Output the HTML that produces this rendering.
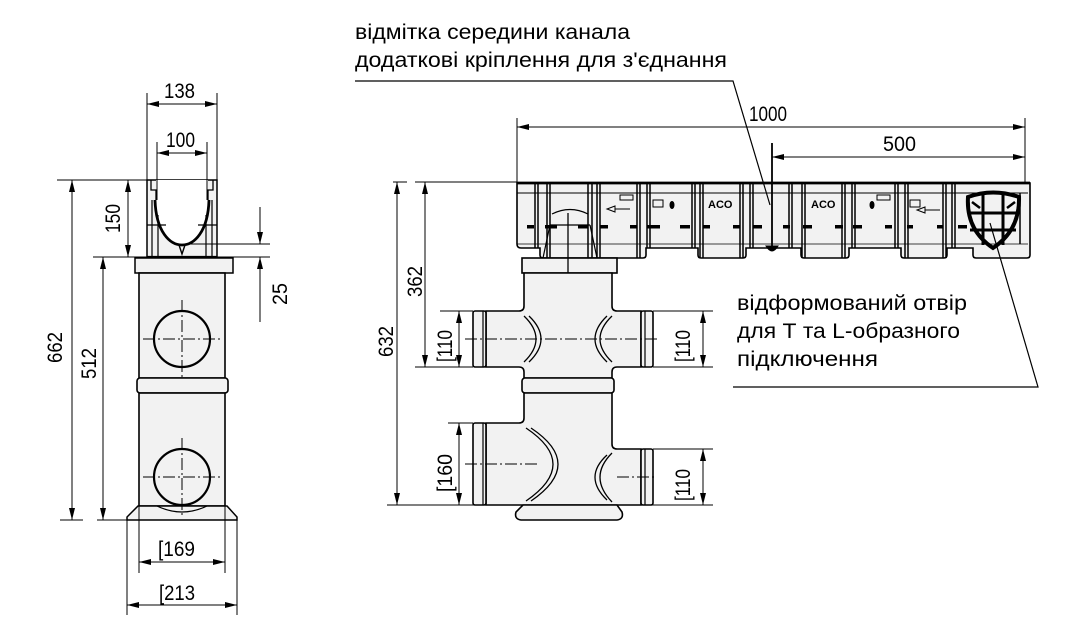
<!DOCTYPE html>
<html><head><meta charset="utf-8"><style>
html,body{margin:0;padding:0;background:#fff;}
svg{display:block;}
text{font-family:"Liberation Sans","DejaVu Sans",sans-serif;fill:#000;}
</style></head><body>
<svg width="1071" height="631" viewBox="0 0 1071 631" xmlns="http://www.w3.org/2000/svg">
<defs>
<marker id="a" markerUnits="userSpaceOnUse" markerWidth="12" markerHeight="6" refX="12" refY="3" orient="auto-start-reverse"><path d="M0,0 L12,3 L0,6 Z" fill="#000"/></marker>
</defs>
<rect width="1071" height="631" fill="#fff"/>

<!-- ============ LEFT VIEW ============ -->
<g stroke="#000" fill="#f2f2f2">
  <rect x="147" y="180" width="70" height="77" stroke-width="1.5"/>
  <path d="M156,180 L156,200 C156,232 170,245 182,245 C194,245 208,232 208,200 L208,180 Z" fill="#fff" stroke="none"/>
  <path d="M151,180 V190 H156 V200 M213,180 V190 H208 V200" fill="none" stroke-width="1.3"/>
  <path d="M147,225 H166 M198,225 H217" fill="none" stroke-width="1.2"/>
  <path d="M152,200 V257 M158,215 V257 M206,215 V257 M212,200 V257" fill="none" stroke-width="1.2"/>
  <path d="M155,200 C156,232 170,245 182,245 C194,245 208,232 209,200" fill="none" stroke-width="2.8"/>
  <path d="M179,245 L182,254 L185,245" fill="none" stroke-width="1.4"/>
  <line x1="147" y1="257" x2="217" y2="257" stroke-width="2.2"/>
  <rect x="135" y="258" width="98" height="15" stroke-width="1.5"/>
  <rect x="139" y="273" width="86" height="105" stroke-width="1.6"/>
  <rect x="137" y="378" width="91" height="15" rx="3" stroke-width="1.6"/>
  <rect x="139" y="393" width="86" height="113" stroke-width="1.6"/>
  <path d="M138,506 H227 L237,517 V520 H127 V517 Z" stroke-width="1.5"/>
  <path d="M157,506 Q182,518 207,506" fill="none" stroke-width="1.2"/>
  <circle cx="182" cy="339" r="28" fill="none" stroke-width="2.2"/>
  <circle cx="182" cy="477" r="28" fill="none" stroke-width="2.2"/>
</g>
<g stroke="#000" stroke-width="1" stroke-dasharray="12 3 2 3" fill="none">
  <path d="M143,339 H222 M182,300 V377 M143,477 H222 M182,438 V517"/>
</g>
<g stroke="#000" stroke-width="1" fill="none">
  <path d="M147,93 V180 M217,93 V180 M157,142 V200 M207,142 V200"/>
  <path d="M57,180 H147 M60,520 H83 M93,257 H270 M97,520 H127 M185,244 H270"/>
  <path d="M139,506 V573 M225,506 V573 M127,518 V615 M237,518 V615"/>
  <line x1="147" y1="104" x2="217" y2="104" marker-start="url(#a)" marker-end="url(#a)"/>
  <line x1="157" y1="153" x2="207" y2="153" marker-start="url(#a)" marker-end="url(#a)"/>
  <line x1="128" y1="180" x2="128" y2="257" marker-start="url(#a)" marker-end="url(#a)"/>
  <line x1="72" y1="180" x2="72" y2="520" marker-start="url(#a)" marker-end="url(#a)"/>
  <line x1="103" y1="257" x2="103" y2="520" marker-start="url(#a)" marker-end="url(#a)"/>
  <line x1="260" y1="207" x2="260" y2="244" marker-end="url(#a)"/>
  <line x1="260" y1="322" x2="260" y2="257" marker-end="url(#a)"/>
  <line x1="139" y1="562" x2="225" y2="562" marker-start="url(#a)" marker-end="url(#a)"/>
  <line x1="127" y1="605" x2="237" y2="605" marker-start="url(#a)" marker-end="url(#a)"/>
</g>
<g font-size="21">
  <text x="164" y="98" textLength="31" lengthAdjust="spacingAndGlyphs">138</text>
  <text x="166" y="147" textLength="29" lengthAdjust="spacingAndGlyphs">100</text>
  <text x="158" y="556" textLength="37" lengthAdjust="spacingAndGlyphs">[169</text>
  <text x="159" y="600" textLength="36" lengthAdjust="spacingAndGlyphs">[213</text>
  <text transform="translate(120,233) rotate(-90)" textLength="29" lengthAdjust="spacingAndGlyphs">150</text>
  <text transform="translate(62,363) rotate(-90)" textLength="31" lengthAdjust="spacingAndGlyphs">662</text>
  <text transform="translate(96,379) rotate(-90)" textLength="31" lengthAdjust="spacingAndGlyphs">512</text>
  <text transform="translate(287,305) rotate(-90)" textLength="22" lengthAdjust="spacingAndGlyphs">25</text>
</g>

<!-- ============ RIGHT VIEW ============ -->
<g stroke="#000">
  <path d="M517,183 H1030 V255 Q1030,258 1027,258 H976 Q973,258 973,255 V248 H947 V255 Q947,258 944,258 H904 Q901,258 901,255 V248 H849 V255 Q849,258 846,258 H804 Q801,258 801,255 V248 H746 V255 Q746,258 743,258 H701 Q698,258 698,255 V248 H646 V255 Q646,258 643,258 H543 Q540,258 540,255 V248 H521 Q517,248 517,244 Z" fill="#f2f2f2" stroke-width="1.6"/>
  <line x1="517" y1="183" x2="1030" y2="183" stroke-width="2.8"/>
  <line x1="517" y1="193" x2="1028" y2="193" stroke-width="1"/>
  <line x1="517" y1="244" x2="1028" y2="244" stroke-width="0.8"/>
  <g stroke-width="1.5" fill="none">
    <path d="M535,183 V248 M538,183 V248 M547,183 V258 M550,183 V258 M588,183 V258 M592,183 V258 M597,183 V258 M600,183 V258 M637,183 V258 M640,183 V258 M647,183 V248 M650,183 V248"/>
    <path d="M692,183 V248 M695,183 V248 M700,183 V258 M703,183 V258 M740,183 V258 M743,183 V258 M750,183 V248 M753,183 V248"/>
    <path d="M789,183 V248 M792,183 V248 M802,183 V258 M805,183 V258 M842,183 V258 M845,183 V258 M852,183 V248 M855,183 V248"/>
    <path d="M895,183 V248 M898,183 V248 M905,183 V258 M908,183 V258 M943,183 V258 M946,183 V258 M952,183 V248 M955,183 V248 M1020,193 V244"/>
    <path d="M550,225 L543,258 M590,225 L597,258 M550,225 H590 M552,214 Q570,205 588,214" stroke-width="1.2"/>
  </g>
  <g stroke="none" fill="#000">
    <rect x="527" y="225" width="7" height="3.5"/><rect x="545" y="225" width="12" height="3.5"/>
    <rect x="578" y="225" width="10" height="3.5"/><rect x="600" y="225" width="8" height="3.5"/>
    <rect x="630" y="225" width="7" height="3.5"/><rect x="647" y="225" width="13" height="3.5"/>
    <rect x="680" y="225" width="10" height="3.5"/><rect x="703" y="225" width="7" height="3.5"/>
    <rect x="733" y="225" width="7" height="3.5"/><rect x="753" y="225" width="9" height="3.5"/>
    <rect x="783" y="225" width="7" height="3.5"/><rect x="803" y="225" width="9" height="3.5"/>
    <rect x="835" y="225" width="8" height="3.5"/><rect x="853" y="225" width="9" height="3.5"/>
    <rect x="885" y="225" width="7" height="3.5"/><rect x="907" y="225" width="6" height="3.5"/>
    <rect x="937" y="225" width="6" height="3.5"/><rect x="958" y="225" width="9" height="3.5"/>
    <ellipse cx="672" cy="205" rx="2.5" ry="4"/>
    <ellipse cx="872" cy="205" rx="2.5" ry="4"/>
  </g>
  <g stroke-width="1" fill="none">
    <path d="M620,195 H633 V200 H620 Z M653,200 H663 V207 H653 Z"/>
    <path d="M877,195 H890 V200 H877 Z M910,200 H920 V207 H910 Z"/>
    <path d="M630,209 H615 M615,206 L607,209 L615,212 Z"/>
    <path d="M940,210 H925 M925,207 L917,210 L925,213 Z"/>
  </g>
  <text x="708" y="208" font-size="11" font-weight="bold" stroke="none">ACO</text>
  <text x="811" y="208" font-size="11" font-weight="bold" stroke="none">ACO</text>
  <line x1="772" y1="143" x2="772" y2="248" stroke-width="1.8"/>
  <path d="M766,246 Q772,256 778,246 Z" fill="#000" stroke-width="1"/>
  <g stroke-width="4" fill="none">
    <path d="M968,197 Q993,188 1019,197 Q1020,230 993,248 Q966,230 968,197 Z"/>
    <path d="M983,193 V245 M1003,193 V245 M968,213 H1019 M970,230 H1016" stroke-width="3"/>
    <path d="M972,202 L980,208 M1015,202 L1007,208" stroke-width="2.5"/>
  </g>
</g>

<g stroke="#000" fill="#f2f2f2" stroke-width="1.6">
  <rect x="522" y="258" width="95" height="15"/>
  <path d="M524,273 V306 Q524,311 519,311 H486 V367 H519 Q524,367 524,372 V378 H612 V372 Q612,367 617,367 H641 V311 H617 Q612,311 612,306 V273 Z"/>
  <rect x="522" y="378" width="92" height="15" rx="3"/>
  <path d="M524,393 V418 Q524,423 519,423 H486 V505 H641 V449 H617 Q612,449 612,444 V393 Z"/>
  <rect x="473" y="311" width="13" height="56" rx="2"/>
  <rect x="641" y="311" width="12" height="56" rx="2"/>
  <rect x="473" y="423" width="13" height="82" rx="2"/>
  <rect x="641" y="449" width="12" height="56" rx="2"/>
  <path d="M523,505 H617 L622,512 Q624,519 617,520 H521 Q514,519 516,512 Z"/>
  <path d="M483,311 V367 M645,311 V367 M483,423 V505 M645,449 V505" fill="none" stroke-width="1.2"/>
  <path d="M524,316 Q548,339 524,362 M529,316 Q553,339 529,362" fill="none" stroke-width="1.3"/>
  <path d="M612,316 Q588,339 612,362 M607,316 Q583,339 607,362" fill="none" stroke-width="1.3"/>
  <path d="M526,428 Q580,464 526,501 M531,428 Q585,464 531,501" fill="none" stroke-width="1.3"/>
  <path d="M612,453 Q588,477 612,502 M607,455 Q583,477 607,500" fill="none" stroke-width="1.3"/>
  <line x1="568" y1="213" x2="568" y2="273" stroke-width="1.3"/>
</g>
<g stroke="#000" stroke-width="1" stroke-dasharray="12 3 2 3" fill="none">
  <path d="M465,339 H660 M465,464 H537 M617,477 H657"/>
</g>
<g stroke="#000" stroke-width="1" fill="none">
  <path d="M517,118 V183 M1025,118 V183"/>
  <path d="M393,182 H407 M415,182 H517 M387,505 H713 M415,367 H473 M440,311 H473 M653,311 H713 M653,367 H713 M448,423 H473 M653,449 H713"/>
  <line x1="517" y1="127" x2="1025" y2="127" marker-start="url(#a)" marker-end="url(#a)"/>
  <line x1="772" y1="157" x2="1025" y2="157" marker-start="url(#a)" marker-end="url(#a)"/>
  <line x1="397" y1="182" x2="397" y2="505" marker-start="url(#a)" marker-end="url(#a)"/>
  <line x1="425" y1="182" x2="425" y2="367" marker-start="url(#a)" marker-end="url(#a)"/>
  <line x1="459" y1="311" x2="459" y2="367" marker-start="url(#a)" marker-end="url(#a)"/>
  <line x1="703" y1="311" x2="703" y2="367" marker-start="url(#a)" marker-end="url(#a)"/>
  <line x1="459" y1="423" x2="459" y2="505" marker-start="url(#a)" marker-end="url(#a)"/>
  <line x1="703" y1="449" x2="703" y2="505" marker-start="url(#a)" marker-end="url(#a)"/>
  <path d="M355,81 H733 L770,205" stroke-width="1.2"/>
  <path d="M733,387 H1038 L990,223" stroke-width="1.2"/>
</g>
<g font-size="21">
  <text x="749" y="121" textLength="38" lengthAdjust="spacingAndGlyphs">1000</text>
  <text x="883" y="151" textLength="33" lengthAdjust="spacingAndGlyphs">500</text>
  <text transform="translate(393,357) rotate(-90)" textLength="31" lengthAdjust="spacingAndGlyphs">632</text>
  <text transform="translate(422,297) rotate(-90)" textLength="31" lengthAdjust="spacingAndGlyphs">362</text>
  <text transform="translate(452,362) rotate(-90)" textLength="32" lengthAdjust="spacingAndGlyphs">[110</text>
  <text transform="translate(690,362) rotate(-90)" textLength="32" lengthAdjust="spacingAndGlyphs">[110</text>
  <text transform="translate(452,492) rotate(-90)" textLength="38" lengthAdjust="spacingAndGlyphs">[160</text>
  <text transform="translate(690,501) rotate(-90)" textLength="32" lengthAdjust="spacingAndGlyphs">[110</text>
</g>
<g font-size="21">
  <text x="355" y="39" textLength="275" lengthAdjust="spacingAndGlyphs">відмітка середини канала</text>
  <text x="355" y="67" textLength="372" lengthAdjust="spacingAndGlyphs">додаткові кріплення для з'єднання</text>
  <text x="737" y="310" textLength="230" lengthAdjust="spacingAndGlyphs">відформований отвір</text>
  <text x="737" y="338" textLength="223" lengthAdjust="spacingAndGlyphs">для Т та L-образного</text>
  <text x="737" y="366" textLength="141" lengthAdjust="spacingAndGlyphs">підключення</text>
</g>
</svg>
</body></html>
